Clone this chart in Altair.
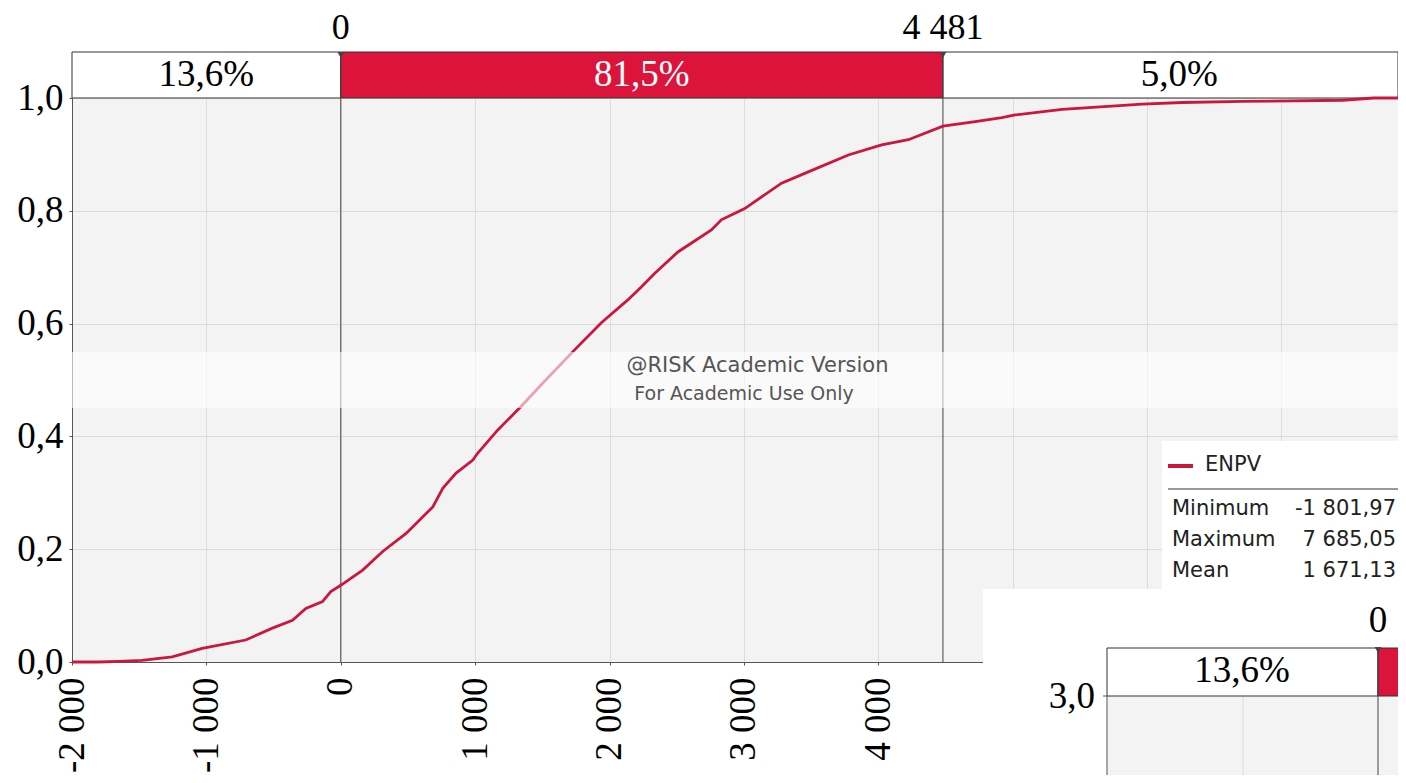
import altair as alt
import pandas as pd

# ---- data ----
enpv_x = [-1802, -1650, -1480, -1254, -1031, -708, -509, -359, -260, -136, -74, 0,
          163, 312, 486, 685, 759, 858, 983, 1018, 1167, 1341, 1490, 1738, 1937,
          2136, 2236, 2335, 2509, 2758, 2832, 3006, 3280, 3479, 3777, 4025, 4224,
          4481, 4721, 4920, 5019, 5368, 5964, 6262, 6710, 7456, 7685]
enpv_p = [0.0, 0.001, 0.003, 0.009, 0.024, 0.039, 0.060, 0.074, 0.095, 0.107, 0.125, 0.136,
          0.163, 0.196, 0.228, 0.275, 0.308, 0.335, 0.358, 0.370, 0.411, 0.453, 0.491, 0.553, 0.601,
          0.642, 0.665, 0.689, 0.727, 0.766, 0.784, 0.804, 0.849, 0.869, 0.899, 0.917, 0.926,
          0.950, 0.958, 0.965, 0.970, 0.980, 0.989, 0.992, 0.994, 0.996, 1.0]

delimiters = [0, 4481]
delimiter_labels = ["0", "4 481"]
band_labels = ["13,6%", "81,5%", "5,0%"]
x_ticks = [-2000, -1000, 0, 1000, 2000, 3000, 4000, 5000, 6000, 7000]
y_ticks = [0.0, 0.2, 0.4, 0.6, 0.8, 1.0]
stat_names = ["Minimum", "Maximum", "Mean"]
stat_values = ["-1 801,97", "7 685,05", "1 671,13"]
series_name = "ENPV"
watermark = ["@RISK Academic Version", "For Academic Use Only"]

# ---- layout ----
W, H = 1326, 564
XMIN = -2000
XMAX = XMIN + W / 0.134383
AXIS_END = 8000
BAND_TOP = 1.0 + 46 / H
LABEL_Y = 1.0 + 70 / H
TRI_Y = 1.0 + 43 / H

RED = "#DC143C"
LINE = "#C9173D"
SERIF = "Liberation Serif"
SANS = "DejaVu Sans"

xsc = alt.Scale(domain=[XMIN, XMAX], nice=False, zero=False)
ysc = alt.Scale(domain=[0, 1], nice=False, zero=False)

x_label_expr = "replace(replace(format(datum.value, ','), ',', ' '), '\u2212', '-')"
xax = alt.Axis(values=x_ticks, labelExpr=x_label_expr, labelAngle=270,
               labelFont=SERIF, labelFontSize=37, labelColor="black",
               labelPadding=12, tickSize=3, tickColor="#555555",
               domainColor="#555555", gridColor="#dcdcdc", title=None,
               labelOverlap=False, labelFlush=False, labelBound=False)
yax = alt.Axis(values=y_ticks, labelExpr="replace(format(datum.value, '.1f'), '.', ',')",
               labelFont=SERIF, labelFontSize=37, labelColor="black",
               labelPadding=6, tickSize=3, tickColor="#555555",
               domainColor="#555555", gridColor="#dcdcdc", title=None,
               labelOverlap=False, labelFlush=False)

X = lambda f: alt.X(f, type="quantitative", scale=xsc, axis=xax, title=None)
Y = lambda f: alt.Y(f, type="quantitative", scale=ysc, axis=yax, title=None)

# the plotted cumulative line runs flat from the axis start and to the axis end
curve = pd.DataFrame({"x": [XMIN] + enpv_x + [XMAX], "p": [0.0] + enpv_p + [1.0]})

edges = [XMIN] + delimiters + [XMAX]
text_edges = [XMIN] + delimiters + [AXIS_END]
band = pd.DataFrame({
    "x0": edges[:-1], "x1": edges[1:],
    "xm": [(a + b) / 2 for a, b in zip(text_edges[:-1], text_edges[1:])],
    "y0": [1.0] * 3, "y1": [BAND_TOP] * 3, "ym": [1.0 + 23 / H] * 3,
    "label": band_labels, "fill": ["white", RED, "white"],
    "tcol": ["black", "white", "black"],
})
delim = pd.DataFrame({"x": delimiters, "label": delimiter_labels,
                      "y0": [0.0] * 2, "y1": [BAND_TOP] * 2,
                      "yl": [LABEL_Y] * 2, "yt": [TRI_Y] * 2})

line = alt.Chart(curve).mark_line(color=LINE, strokeWidth=2.8).encode(
    x=X("x"), y=Y("p"))

band_rect = alt.Chart(band).mark_rect(stroke="#333333", strokeWidth=1).encode(
    x=X("x0"), x2="x1", y=Y("y0"), y2="y1",
    fill=alt.Fill("fill:N", scale=None))
band_text = alt.Chart(band).mark_text(font=SERIF, fontSize=37, baseline="middle").encode(
    x=X("xm"), y=Y("ym"), text="label:N", color=alt.Color("tcol:N", scale=None))

delim_rule = alt.Chart(delim).mark_rule(color="#444444", strokeWidth=1).encode(
    x=X("x"), y=Y("y0"), y2="y1")
delim_tri = alt.Chart(delim).mark_point(shape="triangle-down", filled=True, size=45,
                                        color="#444444", opacity=1).encode(
    x=X("x"), y=Y("yt"))
delim_text = alt.Chart(delim).mark_text(font=SERIF, fontSize=36, baseline="middle",
                                        color="black").encode(
    x=X("x"), y=Y("yl"), text="label:N")

wm = pd.DataFrame({"x0": [XMIN], "x1": [XMAX], "y0": [(662 - 408) / H], "y1": [(662 - 352) / H]})
wm_rect = alt.Chart(wm).mark_rect(fill="white", opacity=0.6).encode(
    x=X("x0"), x2="x1", y=Y("y0"), y2="y1")
wm_text1 = alt.Chart(pd.DataFrame({"x": [3101], "y": [0.5248], "t": [watermark[0]]})).mark_text(
    font=SANS, fontSize=21, color="#555555", baseline="middle").encode(
    x=X("x"), y=Y("y"), text="t:N")
wm_text2 = alt.Chart(pd.DataFrame({"x": [3001], "y": [0.4743], "t": [watermark[1]]})).mark_text(
    font=SANS, fontSize=19, color="#555555", baseline="middle").encode(
    x=X("x"), y=Y("y"), text="t:N")

# ---- legend box (pixel placed decoration) ----
legend_layers = [
    alt.Chart(wm).mark_rect(fill="white").encode(
        x=alt.value(1090), x2=alt.value(W), y=alt.value(343), y2=alt.value(491)),
    alt.Chart(wm).mark_rule(color=LINE, strokeWidth=4).encode(
        x=alt.value(1096), x2=alt.value(1121), y=alt.value(368)),
    alt.Chart(pd.DataFrame({"t": [series_name]})).mark_text(
        font=SANS, fontSize=21, align="left", baseline="middle", color="#222222").encode(
        x=alt.value(1133), y=alt.value(367), text="t:N"),
    alt.Chart(wm).mark_rule(color="#777777", strokeWidth=1.5).encode(
        x=alt.value(1096), x2=alt.value(W), y=alt.value(391)),
]
for i, (n, v) in enumerate(zip(stat_names, stat_values)):
    yy = 411 + 31 * i
    legend_layers.append(alt.Chart(pd.DataFrame({"t": [n]})).mark_text(
        font=SANS, fontSize=21, align="left", baseline="middle", color="#222222").encode(
        x=alt.value(1100), y=alt.value(yy), text="t:N"))
    legend_layers.append(alt.Chart(pd.DataFrame({"t": [v]})).mark_text(
        font=SANS, fontSize=21, align="right", baseline="middle", color="#222222").encode(
        x=alt.value(1324), y=alt.value(yy), text="t:N"))

# ---- inset fragment of a second chart (pixel placed decoration) ----
inset_layers = [
    alt.Chart(wm).mark_rect(fill="white").encode(
        x=alt.value(911), x2=alt.value(W), y=alt.value(491), y2=alt.value(700)),
    alt.Chart(wm).mark_rect(fill="#f3f3f3").encode(
        x=alt.value(1035), x2=alt.value(W), y=alt.value(598), y2=alt.value(700)),
    alt.Chart(wm).mark_rule(color="#dcdcdc", strokeWidth=1).encode(
        x=alt.value(1171), y=alt.value(598), y2=alt.value(700)),
    alt.Chart(wm).mark_rect(fill="white", stroke="#333333", strokeWidth=1).encode(
        x=alt.value(1035), x2=alt.value(1306), y=alt.value(550), y2=alt.value(598)),
    alt.Chart(wm).mark_rect(fill=RED, stroke="#333333", strokeWidth=1).encode(
        x=alt.value(1306), x2=alt.value(W + 20), y=alt.value(550), y2=alt.value(598)),
    alt.Chart(wm).mark_rule(color="#444444", strokeWidth=1).encode(
        x=alt.value(1306), y=alt.value(550), y2=alt.value(700)),
    alt.Chart(wm).mark_rule(color="#555555", strokeWidth=1).encode(
        x=alt.value(1035), y=alt.value(598), y2=alt.value(700)),
    alt.Chart(wm).mark_rule(color="#555555", strokeWidth=1).encode(
        x=alt.value(1031), x2=alt.value(1035), y=alt.value(598)),
    alt.Chart(wm).mark_point(shape="triangle-down", filled=True, size=45,
                             color="#444444", opacity=1).encode(
        x=alt.value(1306), y=alt.value(552)),
    alt.Chart(pd.DataFrame({"t": ["0"]})).mark_text(
        font=SERIF, fontSize=37, baseline="middle", color="black").encode(
        x=alt.value(1306), y=alt.value(523), text="t:N"),
    alt.Chart(pd.DataFrame({"t": [band_labels[0]]})).mark_text(
        font=SERIF, fontSize=37, baseline="middle", color="black").encode(
        x=alt.value(1170), y=alt.value(573), text="t:N"),
    alt.Chart(pd.DataFrame({"t": ["3,0"]})).mark_text(
        font=SERIF, fontSize=37, baseline="middle", align="right", color="black").encode(
        x=alt.value(1023), y=alt.value(599), text="t:N"),
]

chart = alt.layer(
    band_rect, band_text, delim_rule, line, wm_rect, wm_text1, wm_text2,
    delim_tri, delim_text, *legend_layers, *inset_layers
).properties(
    width=W, height=H,
    autosize=alt.AutoSizeParams(type="none"),
    padding={"left": 64, "top": 90, "right": 0, "bottom": 113},
    background="white",
).configure_view(fill="#f3f3f3", stroke="transparent")

chart.save("out.html", embed_options={"renderer": "svg", "actions": False})
